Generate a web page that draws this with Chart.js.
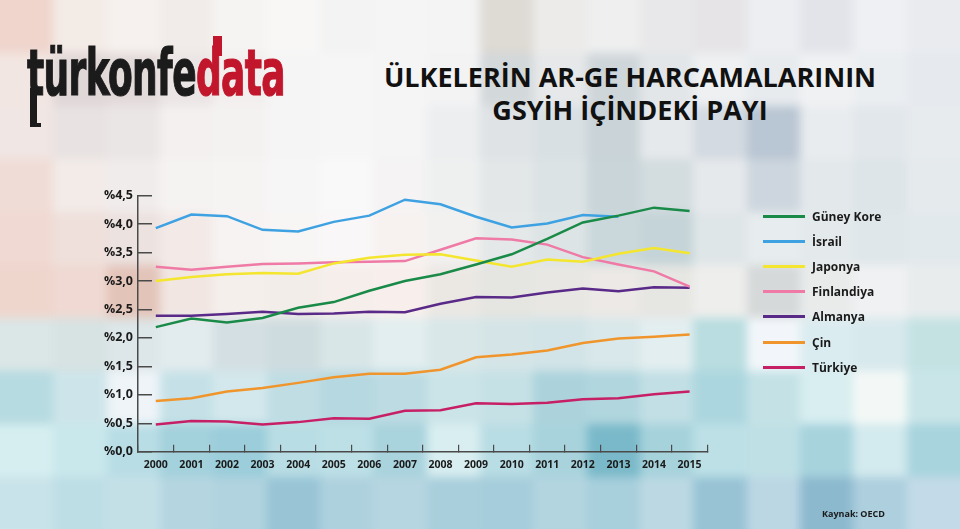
<!DOCTYPE html>
<html lang="tr">
<head>
<meta charset="utf-8">
<title>Ülkelerin AR-GE harcamalarının GSYİH içindeki payı</title>
<script src="https://cdn.jsdelivr.net/npm/chart.js@4.4.0/dist/chart.umd.min.js"></script>
<style>
  html, body { margin: 0; padding: 0; }
  body {
    width: 960px; height: 529px; position: relative; overflow: hidden;
    background: #e3ebee; font-family: "Open Sans", "DejaVu Sans", sans-serif; color: #151515;
  }
  #mosaic {
    position: absolute; left: -53.33px; top: -53px; width: 1066.67px; height: 636px;
    display: grid; grid-template-columns: repeat(20, 1fr); grid-template-rows: repeat(12, 1fr);
    filter: blur(5px);
  }
  #chartBox { position: absolute; left: 0; top: 0; width: 960px; height: 529px; }
  #logo {
    position: absolute; left: 27px; top: 41px; white-space: nowrap;
    font-family: "Liberation Sans Narrow", "DejaVu Sans Condensed", sans-serif;
    font-weight: 700; font-size: 64px; line-height: 64px; letter-spacing: -1px;
    color: #1b1b1b; transform-origin: 0 0;
    -webkit-text-stroke: 1.2px #1b1b1b;
  }
  #logo .red { color: #c1162b; -webkit-text-stroke: 1.2px #c1162b; }
  .bar { position: absolute; }
  #title {
    position: absolute; left: 330px; width: 600px; top: 60px; text-align: center;
    font-weight: 700; font-size: 27px; line-height: 33px; color: #111;
  }
  #legend { position: absolute; left: 763px; top: 204px; margin: 0; padding: 0; list-style: none; }
  #legend li { height: 25.1px; display: flex; align-items: center; font-weight: 700; font-size: 12px; color: #1a1a1a; }
  #legend .swatch { width: 42px; height: 3px; margin-right: 7px; display: inline-block; }
  #source { position: absolute; left: 822px; top: 507px; font-weight: 700; font-size: 9px; color: #1a1a1a; }
</style>
</head>
<body>
<div id="mosaic"></div>
<div id="logo"><span id="firstT">t</span>ürkonfe<span class="red"><span id="letterD">d</span>ata</span></div>
<div id="title">ÜLKELERİN AR-GE HARCAMALARININ<br>GSYİH İÇİNDEKİ PAYI</div>
<div id="chartBox"><canvas id="rdChart" width="960" height="529"></canvas></div>
<ul id="legend"></ul>
<div id="source">Kaynak: OECD</div>

<script>
// Data (share of R&D spending in GDP, %)
const years = ["2000", "2001", "2002", "2003", "2004", "2005", "2006", "2007",
  "2008", "2009", "2010", "2011", "2012", "2013", "2014", "2015"];
const guneyKore = [2.19, 2.34, 2.27, 2.35, 2.53, 2.63, 2.83, 3.00, 3.12, 3.29, 3.47, 3.74, 4.03, 4.15, 4.29, 4.23];
const israil = [3.93, 4.17, 4.14, 3.90, 3.87, 4.04, 4.15, 4.43, 4.35, 4.13, 3.94, 4.01, 4.16, 4.13, null, null];
const japonya = [3.00, 3.07, 3.12, 3.14, 3.13, 3.31, 3.41, 3.46, 3.47, 3.36, 3.25, 3.38, 3.34, 3.48, 3.58, 3.49];
const finlandiya = [3.25, 3.20, 3.25, 3.30, 3.31, 3.33, 3.34, 3.35, 3.55, 3.75, 3.73, 3.64, 3.42, 3.29, 3.17, 2.90];
const almanya = [2.39, 2.39, 2.42, 2.46, 2.42, 2.43, 2.46, 2.45, 2.60, 2.72, 2.71, 2.80, 2.87, 2.82, 2.89, 2.88];
const cin = [0.89, 0.94, 1.06, 1.12, 1.21, 1.31, 1.37, 1.37, 1.44, 1.66, 1.71, 1.78, 1.91, 1.99, 2.02, 2.06];
const turkiye = [0.48, 0.54, 0.53, 0.48, 0.52, 0.59, 0.58, 0.72, 0.73, 0.85, 0.84, 0.86, 0.92, 0.94, 1.01, 1.06];
const yTickLabels = ["%0,0", "%0,5", "%1,0", "%1,5", "%2,0", "%2,5", "%3,0", "%3,5", "%4,0", "%4,5"];

// Blurred mosaic background, 18 x 10 cells
const mosaicColors = [
  ["#efd5cc", "#f3ebe6", "#f6f1ee", "#f1ece9", "#f6f4f2", "#f8f7f6", "#f4f3f3", "#f6f5f5", "#f4f4f5", "#dedad4", "#ecebea", "#efefef", "#e8e8ea", "#e6e4e6", "#eceef1", "#e3e4ea", "#eef0f3", "#e9ebef"],
  ["#f2e6e2", "#e0d7d7", "#e3dada", "#ebe6e5", "#f2efee", "#f5f5f5", "#f6f6f6", "#f5f5f5", "#f3f3f4", "#d3d8da", "#e6e8e9", "#cfd6da", "#e2e6e8", "#eef0f2", "#e8ebee", "#f0f1f3", "#ebeef1", "#e6eaee"],
  ["#f0e6e3", "#e8e2e2", "#ebe6e6", "#f3f0ef", "#f4f2f1", "#f6f5f5", "#f7f6f6", "#f5f5f6", "#eceeef", "#dfe3e5", "#d9e0e3", "#c9d3d8", "#e6e9eb", "#d3dae1", "#b9c6d3", "#e9ecef", "#e2e7eb", "#e7ebee"],
  ["#f0dcd6", "#f2ebe8", "#f0eceb", "#f5f3f2", "#f6f4f3", "#f7f6f6", "#f9f9f9", "#f5f3f3", "#eef0f0", "#e3e7e8", "#dce3e5", "#c9d5d9", "#d3dcdf", "#e6e9ec", "#cdd6de", "#e3e8eb", "#dde5e8", "#e5eaed"],
  ["#f0d9d2", "#efe0db", "#ece2e0", "#f3eae8", "#f6f3f2", "#f8f6f5", "#f9f7f7", "#f7f2f0", "#f2f1f0", "#e4e8e8", "#dde4e5", "#cbd8db", "#c5d4d8", "#dfe6e8", "#e7ecee", "#e4eaec", "#dfe7ea", "#e2e9ec"],
  ["#efd6cd", "#efd9d2", "#e3c4b9", "#f1e6e2", "#f5efec", "#f2ede9", "#f6eeeb", "#f8efec", "#ebe8e4", "#e5e5e1", "#e8e7e4", "#ece9e6", "#e6e6e3", "#eeeeec", "#d5d9d9", "#e9ebeb", "#f0f1f2", "#e8eced"],
  ["#dbe6e6", "#d7e2e2", "#dde6e8", "#e2ebee", "#d3dfe3", "#cfdcdf", "#d9e6e8", "#e2eeef", "#d9e7e8", "#d5e5e7", "#d2e4e7", "#d9e8ea", "#e3eef0", "#b9dde0", "#f2f6fa", "#dbecf0", "#d8e9ed", "#c5e2e3"],
  ["#b6dbe1", "#cde5ea", "#eef4f8", "#c5e1e7", "#d3e8ec", "#c0dde4", "#b6d8e0", "#bcdbe2", "#cbe4e8", "#c6e1e6", "#acd3dc", "#b1d6de", "#c2dfe5", "#acd6df", "#c4e2e6", "#d8eef0", "#f3f8f6", "#c9e5e8"],
  ["#d6eef0", "#c9e8ec", "#b9dde5", "#a3d1dc", "#9bcdda", "#b9dde4", "#bde0e7", "#a9d3dd", "#d9eef0", "#b9dde4", "#a8d3dd", "#7ab9c9", "#a6d2dc", "#bde0e6", "#bfe0e5", "#a7d3dd", "#d3eaee", "#a8d4de"],
  ["#c9e3ea", "#bedee6", "#c4e0e7", "#b5d6e1", "#b0d3df", "#98c4d6", "#aed1de", "#b6d6e1", "#a9cfdc", "#a6cddb", "#b3d5e0", "#a8cfdc", "#bcd9e3", "#98c3d5", "#bcd7e4", "#8db9cf", "#adcfde", "#c3dbe8"],
];

function drawMosaic() {
  const box = document.getElementById("mosaic");
  const clamp = (v, lo, hi) => Math.max(lo, Math.min(hi, v));
  for (let r = -1; r <= 10; r++) {
    for (let c = -1; c <= 18; c++) {
      const cell = document.createElement("div");
      cell.style.background = mosaicColors[clamp(r, 0, 9)][clamp(c, 0, 17)];
      box.appendChild(cell);
    }
  }
}

// Squeeze the logo to its width and add the long d stem / t tail
function fitLogo() {
  const logo = document.getElementById("logo");
  const w = logo.getBoundingClientRect().width;
  logo.style.transform = `scaleX(${258 / w})`;

  const d = document.getElementById("letterD").getBoundingClientRect();
  const stem = document.createElement("div");
  stem.className = "bar";
  Object.assign(stem.style, { left: (d.right - 8) + "px", top: "36px", width: "9px", height: "20px", background: "#c1162b" });
  document.body.appendChild(stem);

  const t = document.getElementById("firstT").getBoundingClientRect();
  const tail = document.createElement("div");
  tail.className = "bar";
  Object.assign(tail.style, { left: (t.left + 3) + "px", top: "88px", width: "7px", height: "39px", background: "#1b1b1b" });
  document.body.appendChild(tail);
  const foot = document.createElement("div");
  foot.className = "bar";
  Object.assign(foot.style, { left: (t.left + 3) + "px", top: "123px", width: "11px", height: "4px", background: "#1b1b1b" });
  document.body.appendChild(foot);
}

// HTML legend built from the chart datasets
const htmlLegend = {
  id: "htmlLegend",
  afterUpdate(chart) {
    const list = document.getElementById("legend");
    list.innerHTML = "";
    chart.data.datasets.forEach((ds) => {
      const li = document.createElement("li");
      const swatch = document.createElement("span");
      swatch.className = "swatch";
      swatch.style.background = ds.borderColor;
      const label = document.createElement("span");
      label.textContent = ds.label;
      li.appendChild(swatch);
      li.appendChild(label);
      list.appendChild(li);
    });
  },
};

function makeSeries(label, data, color) {
  return {
    label: label,
    data: data,
    borderColor: color,
    backgroundColor: color,
    borderWidth: 2.5,
    pointRadius: 0,
    tension: 0,
    fill: false,
  };
}

function initChart() {
  const ctx = document.getElementById("rdChart");
  const axisColor = "#4a4a4a";

  new Chart(ctx, {
    type: "line",
    data: {
      labels: years,
      datasets: [
        makeSeries("Güney Kore", guneyKore, "#1a8a48"),
        makeSeries("İsrail", israil, "#3ea2e2"),
        makeSeries("Japonya", japonya, "#f4e62f"),
        makeSeries("Finlandiya", finlandiya, "#ef7aa6"),
        makeSeries("Almanya", almanya, "#5a2a88"),
        makeSeries("Çin", cin, "#f0952c"),
        makeSeries("Türkiye", turkiye, "#c71f66"),
      ],
    },
    plugins: [htmlLegend],
    options: {
      responsive: false,
      animation: false,
      layout: { padding: { left: 90, right: 252.6, top: 195.7, bottom: 47.3 } },
      plugins: {
        legend: { display: false },
        tooltip: { enabled: false },
      },
      scales: {
        x: {
          offset: true,
          grid: { offset: true, drawOnChartArea: false, drawTicks: true, tickLength: -7, color: axisColor, lineWidth: 1.2 },
          border: { color: axisColor, width: 1.5 },
          ticks: {
            color: "#1a1a1a",
            padding: 14,
            maxRotation: 0,
            autoSkip: false,
            font: { family: "'Open Sans'", size: 10.5, weight: "bold" },
          },
          afterFit: (scale) => { scale.height = 30; },
        },
        y: {
          min: 0,
          max: 4.5,
          grid: { drawOnChartArea: false, drawTicks: true, tickLength: -14, color: axisColor, lineWidth: 1.5 },
          border: { color: axisColor, width: 1.5 },
          ticks: {
            stepSize: 0.5,
            color: "#1a1a1a",
            padding: 19,
            font: { family: "'Open Sans'", size: 12.5, weight: "bold" },
            callback: (value, index) => yTickLabels[index],
          },
          afterFit: (scale) => { scale.width = 48; },
        },
      },
    },
  });
}

drawMosaic();
fitLogo();
initChart();
</script>
</body>
</html>
